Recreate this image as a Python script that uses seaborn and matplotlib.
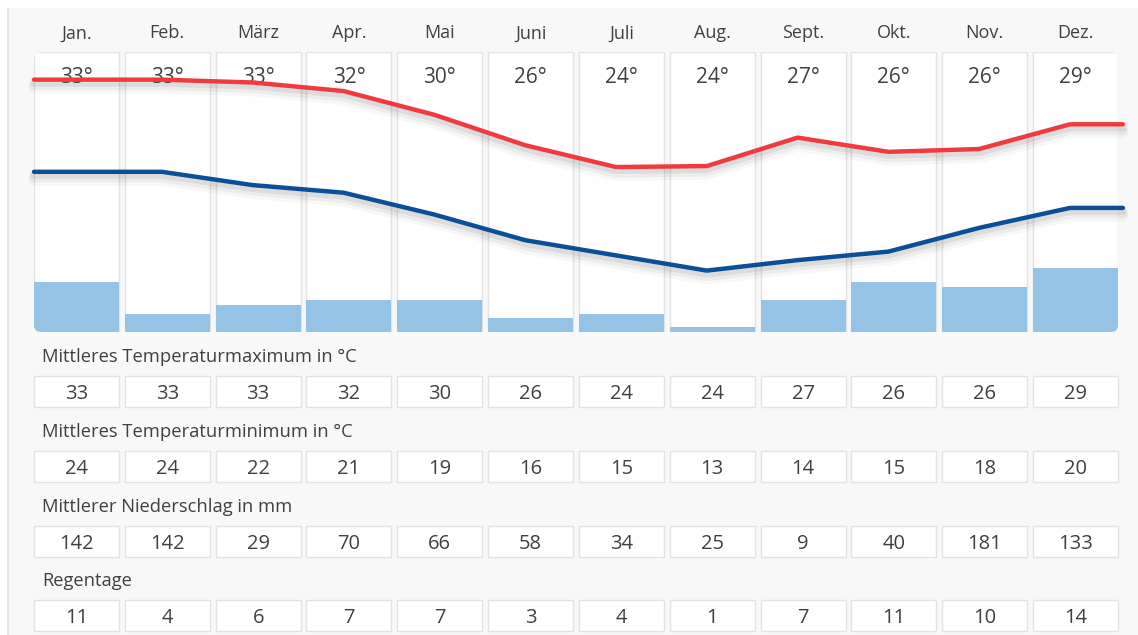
import numpy as np
import matplotlib
matplotlib.use("Agg")
import matplotlib.pyplot as plt
import matplotlib.patheffects as pe
from matplotlib.patches import Rectangle, FancyBboxPatch
import seaborn as sns

# Daten
monate = ['Jan.', 'Feb.', 'März', 'Apr.', 'Mai', 'Juni', 'Juli', 'Aug.', 'Sept.', 'Okt.', 'Nov.', 'Dez.']
temp_max = [33, 33, 33, 32, 30, 26, 24, 24, 27, 26, 26, 29]
temp_min = [24, 24, 22, 21, 19, 16, 15, 13, 14, 15, 18, 20]
niederschlag = [142, 142, 29, 70, 66, 58, 34, 25, 9, 40, 181, 133]
regentage = [11, 4, 6, 7, 7, 3, 4, 1, 7, 11, 10, 14]
# Kurvenwerte, aus dem Bild geschaetzt (ungerundet)
kurve_max = [33.3, 33.3, 33.0, 32.1, 29.6, 26.4, 24.1, 24.2, 27.2, 25.7, 26.0, 28.6]
kurve_min = [23.6, 23.6, 22.2, 21.4, 19.1, 16.4, 14.8, 13.2, 14.3, 15.2, 17.7, 19.8]

tabelle = [('Mittleres Temperaturmaximum in °C', temp_max),
           ('Mittleres Temperaturminimum in °C', temp_min),
           ('Mittlerer Niederschlag in mm', niederschlag),
           ('Regentage', regentage)]

sns.set_theme(style='white')
plt.rcParams['font.family'] = ['Open Sans', 'DejaVu Sans']

W, H = 1138, 635
fx = lambda px: px / W
fy = lambda py: 1 - py / H

rot = '#ef3b40'
blau = '#0b4f98'
hellblau = '#95c3e5'
rand = '#e3e3e3'
text_farbe = '#404040'

fig = plt.figure(figsize=(W / 100, H / 100), dpi=100, facecolor='white')

# Hintergrund
fig.add_artist(Rectangle((fx(9), 0), 1 - fx(9), fy(8), transform=fig.transFigure,
                         facecolor='#f8f8f8', edgecolor='none', zorder=-2))
fig.add_artist(Rectangle((fx(6.5), 0), 2 / W, fy(8), transform=fig.transFigure,
                         facecolor='#dfe7ef', edgecolor='none', zorder=-1))

# Diagrammbereich (Spaltenraster 90.8 px, Spaltenbreite 85 px)
x0, x1 = 31.1, 1120.9
y_oben, y_unten = 52, 332
spalte = (x1 - x0) / 12
pw = 85 / spalte
rand_x = (spalte - 85) / 2

ax = fig.add_axes([fx(x0), fy(y_unten), fx(x1) - fx(x0), (y_unten - y_oben) / H])
clip = FancyBboxPatch((fx(x0 + rand_x), fy(y_unten)), fx(x1 - x0 - 2 * rand_x),
                      (y_unten - y_oben) / H,
                      boxstyle=f'round,pad=0,rounding_size={7 / W}',
                      mutation_aspect=W / H, transform=fig.transFigure)

for i in range(12):
    p = Rectangle((i - pw / 2, 0), pw, 1, transform=ax.get_xaxis_transform(),
                  facecolor='white', edgecolor=rand, lw=1, zorder=0)
    ax.add_patch(p)
    p.set_clip_path(clip)

sns.barplot(x=monate, y=regentage, ax=ax, color=hellblau, saturation=1,
            width=pw, linewidth=0, zorder=1)
for b in ax.patches:
    b.set_clip_path(clip)

ax.set_xlim(-0.5, 11.5)
ax.set_ylim(0, (y_unten - y_oben) / 4.55)
ax.axis('off')

# Temperatur-Beschriftung in den Spalten
for i, t in enumerate(temp_max):
    ax.text(i, (y_unten - 83) / (y_unten - y_oben), f'{t}°', transform=ax.get_xaxis_transform(),
            ha='center', va='baseline', fontsize=15, color=text_farbe, zorder=2)

# Temperaturkurven
ax2 = ax.twinx()
verschiebung = -0.06
xs = np.concatenate([[-0.5 + rand_x / spalte], np.arange(12) + verschiebung,
                     [11.5 + 2 / spalte]])
schatten = [pe.SimpleLineShadow(offset=(0, -2), shadow_color='k', alpha=0.07, linewidth=6),
            pe.SimpleLineShadow(offset=(0, -4), shadow_color='k', alpha=0.05, linewidth=7),
            pe.SimpleLineShadow(offset=(0, -6), shadow_color='k', alpha=0.03, linewidth=8),
            pe.Normal()]
for werte, farbe in [(kurve_min, blau), (kurve_max, rot)]:
    ys = [werte[0]] + werte + [werte[-1]]
    sns.lineplot(x=xs, y=ys, ax=ax2, color=farbe, linewidth=3.2, sort=False,
                 path_effects=schatten, clip_on=False)
ax2.set_ylim((396 - y_unten) / 9.5, (396 - y_oben) / 9.5)
ax2.set_xlim(-0.5, 11.5)
ax2.axis('off')

# Monate und Tabelle
ov = fig.add_axes([fx(x0), 0, fx(x1) - fx(x0), 1])
ov.set_xlim(-0.5, 11.5)
ov.set_ylim(H, 0)
ov.axis('off')

for i, m in enumerate(monate):
    ov.text(i, 38.5, m, ha='center', va='baseline', fontsize=13, color=text_farbe)

for k, (titel, werte) in enumerate(tabelle):
    dy = 74.8 * k
    ov.text(-0.5 + (42 - x0) / spalte, 362 + dy, titel, ha='left', va='baseline',
            fontsize=13.2, color=text_farbe)
    for i, v in enumerate(werte):
        ov.add_patch(Rectangle((i - pw / 2, 376 + dy), pw, 31, facecolor='white',
                               edgecolor=rand, lw=1))
        ov.text(i, 399 + dy, str(v), ha='center', va='baseline', fontsize=14.5,
                color=text_farbe)

fig.savefig('out.png', dpi=100, facecolor='white')
